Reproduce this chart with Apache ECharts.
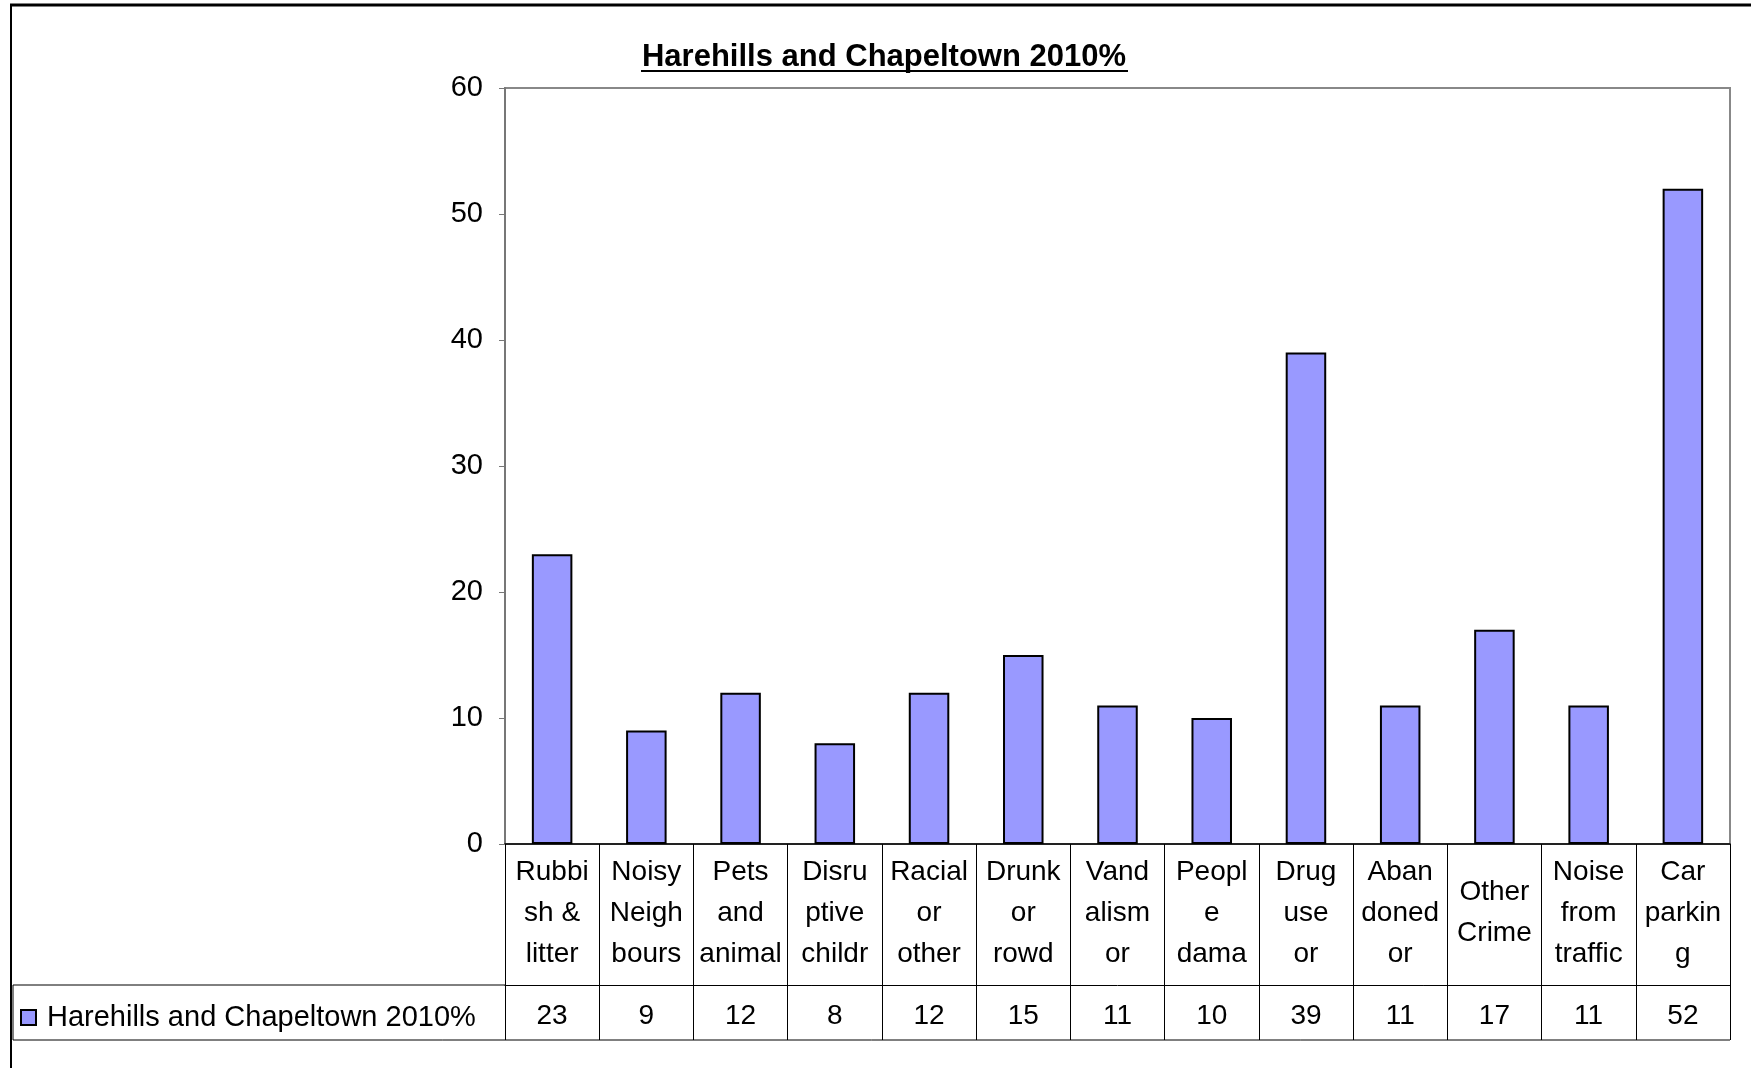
<!DOCTYPE html>
<html>
<head>
<meta charset="utf-8">
<title>Harehills and Chapeltown 2010%</title>
<script src="https://cdn.jsdelivr.net/npm/echarts@6/dist/echarts.min.js"></script>
<style>
  html, body { margin: 0; padding: 0; background: #fff; }
  #main { width: 1751px; height: 1068px; }
</style>
</head>
<body>
<div id="main"></div>
<script>
// data
var seriesName = 'Harehills and Chapeltown 2010%';
var categories = [
    'Rubbi\nsh &\nlitter', 'Noisy\nNeigh\nbours', 'Pets\nand\nanimal', 'Disru\nptive\nchildr',
    'Racial\nor\nother', 'Drunk\nor\nrowd', 'Vand\nalism\nor', 'Peopl\ne\ndama',
    'Drug\nuse\nor', 'Aban\ndoned\nor', 'Other\nCrime', 'Noise\nfrom\ntraffic', 'Car\nparkin\ng'
];
var values = [23, 9, 12, 8, 12, 15, 11, 10, 39, 11, 17, 11, 52];
var yTicks = { min: 0, max: 60, step: 10 };

var FONT = '"Liberation Sans", Arial, sans-serif';
var chart = echarts.init(document.getElementById('main'));

var option = {
    animation: false,
    backgroundColor: '#fff',
    textStyle: { fontFamily: FONT, color: '#000' },
    title: {
        text: seriesName,
        left: 884,
        textAlign: 'center',
        top: 42,
        padding: 0,
        textStyle: { fontFamily: FONT, fontSize: 31, fontWeight: 'bold', color: '#000' }
    },
    legend: {
        data: [seriesName],
        left: 20,
        top: 1003,
        padding: 0,
        itemWidth: 15,
        itemHeight: 15,
        itemGap: 0,
        icon: 'rect',
        textStyle: { fontFamily: FONT, fontSize: 29, color: '#000', padding: [0, 0, 0, 6] }
    },
    grid: {
        left: 505, right: 21, top: 88, bottom: 224,
        show: true, borderColor: '#888', borderWidth: 2, backgroundColor: 'transparent'
    },
    xAxis: [
        {
            type: 'category',
            data: categories,
            boundaryGap: true,
            axisLine: { lineStyle: { color: '#000', width: 1.5 } },
            axisTick: { show: true, interval: 0, length: 141, lineStyle: { color: '#000', width: 1 } },
            axisLabel: {
                interval: 0, margin: 69, verticalAlign: 'middle',
                fontFamily: FONT, fontSize: 28, lineHeight: 41, color: '#000'
            },
            splitLine: { show: false }
        },
        {
            type: 'category',
            data: values.map(String),
            position: 'bottom',
            offset: 141,
            boundaryGap: true,
            axisLine: { lineStyle: { color: '#000', width: 1 } },
            axisTick: { show: true, interval: 0, length: 55, lineStyle: { color: '#000', width: 1 } },
            axisLabel: {
                interval: 0, margin: 31, verticalAlign: 'middle',
                fontFamily: FONT, fontSize: 28, color: '#000'
            },
            splitLine: { show: false }
        }
    ],
    yAxis: {
        type: 'value',
        min: yTicks.min,
        max: yTicks.max,
        interval: yTicks.step,
        axisLine: { show: true, lineStyle: { color: '#777', width: 2 } },
        axisTick: { show: true, length: 6, lineStyle: { color: '#777' } },
        axisLabel: { margin: 22, fontFamily: FONT, fontSize: 29, color: '#000' },
        splitLine: { show: false }
    },
    series: [{
        name: seriesName,
        type: 'bar',
        xAxisIndex: 0,
        data: values,
        barWidth: '43%',
        itemStyle: { color: '#9999FF', borderColor: '#000', borderWidth: 2 }
    }],
    graphic: [
        // page frame
        { type: 'line', shape: { x1: 10, y1: 5, x2: 1751, y2: 5 }, style: { stroke: '#000', lineWidth: 3 } },
        { type: 'line', shape: { x1: 11, y1: 5, x2: 11, y2: 1068 }, style: { stroke: '#000', lineWidth: 2 } },
        // title underline
        { type: 'line', shape: { x1: 641, y1: 71, x2: 1128, y2: 71 }, style: { stroke: '#000', lineWidth: 2 } },
        // legend cell of the data table
        { type: 'line', shape: { x1: 13, y1: 985, x2: 505, y2: 985 }, style: { stroke: '#000', lineWidth: 1 } },
        { type: 'line', shape: { x1: 13, y1: 1040, x2: 1730, y2: 1040 }, style: { stroke: '#000', lineWidth: 1 } },
        { type: 'line', shape: { x1: 13, y1: 985, x2: 13, y2: 1040 }, style: { stroke: '#000', lineWidth: 1 } }
    ]
};

chart.setOption(option);
</script>
</body>
</html>
